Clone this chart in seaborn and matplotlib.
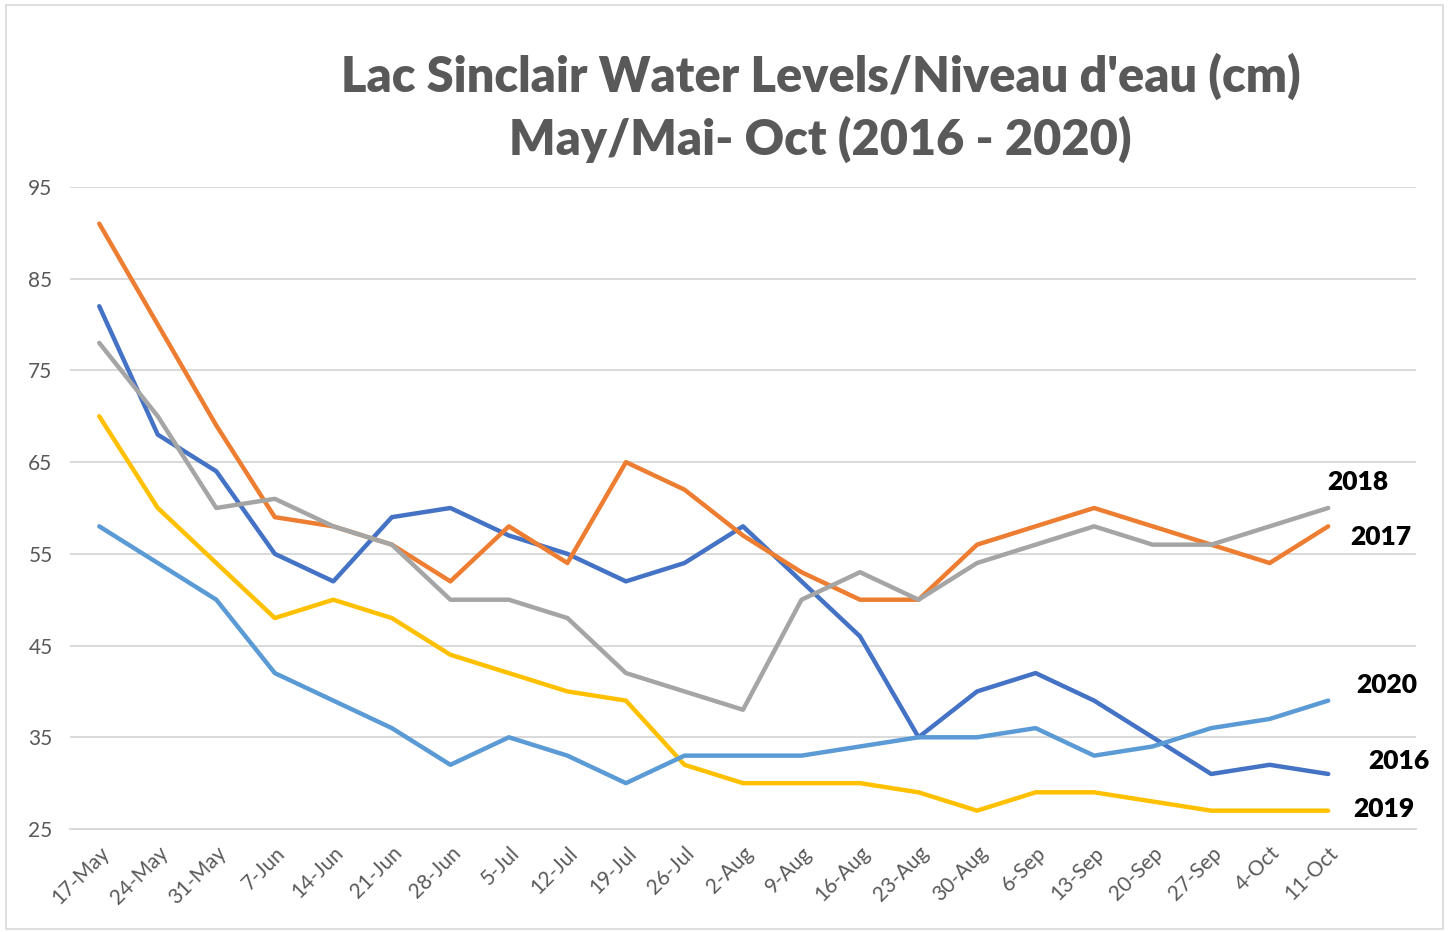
import numpy as np
import pandas as pd
import matplotlib
matplotlib.use("Agg")
import matplotlib.pyplot as plt
import seaborn as sns
from matplotlib.patches import Rectangle

sns.set_theme(style="white")
plt.rcParams['font.family'] = ['Lato', 'DejaVu Sans']

dates = ["17-May", "24-May", "31-May", "7-Jun", "14-Jun", "21-Jun", "28-Jun", "5-Jul",
         "12-Jul", "19-Jul", "26-Jul", "2-Aug", "9-Aug", "16-Aug", "23-Aug", "30-Aug",
         "6-Sep", "13-Sep", "20-Sep", "27-Sep", "4-Oct", "11-Oct"]

lvl_2016 = [82, 68, 64, 55, 52, 59, 60, 57, 55, 52, 54, 58, 52, 46, 35, 40, 42, 39, 35, 31, 32, 31]
lvl_2017 = [91, 80, 69, 59, 58, 56, 52, 58, 54, 65, 62, 57, 53, 50, 50, 56, 58, 60, 58, 56, 54, 58]
lvl_2018 = [78, 70, 60, 61, 58, 56, 50, 50, 48, 42, 40, 38, 50, 53, 50, 54, 56, 58, 56, 56, 58, 60]
lvl_2019 = [70, 60, 54, 48, 50, 48, 44, 42, 40, 39, 32, 30, 30, 30, 29, 27, 29, 29, 28, 27, 27, 27]
lvl_2020 = [58, 54, 50, 42, 39, 36, 32, 35, 33, 30, 33, 33, 33, 34, 35, 35, 36, 33, 34, 36, 37, 39]

years = ["2016", "2017", "2018", "2019", "2020"]
colors = {"2016": "#4472C4", "2017": "#ED7D31", "2018": "#A5A5A5",
          "2019": "#FFC000", "2020": "#5B9BD5"}

series = dict(zip(years, [lvl_2016, lvl_2017, lvl_2018, lvl_2019, lvl_2020]))
df = pd.concat([pd.DataFrame({"pos": range(len(dates)), "level": v, "year": y})
                for y, v in series.items()], ignore_index=True)

fig = plt.figure(figsize=(14.52, 9.32), dpi=100)
ax = fig.add_axes([0.0482, 0.1105, 0.9270, 0.6889])

sns.lineplot(data=df, x="pos", y="level", hue="year", hue_order=years,
             palette=colors, linewidth=3.2, ax=ax, legend=False,
             estimator=None, sort=False)

ax.set_xlim(-0.5, len(dates) + 0.5)
ax.set_ylim(25, 95)
ax.set_yticks(np.arange(25, 96, 10))
ax.yaxis.grid(True, color="#D9D9D9", linewidth=1.4)
ax.set_axisbelow(True)
for s in ["left", "right", "top"]:
    ax.spines[s].set_visible(False)
ax.spines["bottom"].set_color("#D9D9D9")
ax.spines["bottom"].set_linewidth(1.4)

ax.set_xticks(range(len(dates)))
ax.set_xticklabels(dates, rotation=45, ha="right", rotation_mode="anchor")
ax.set_xticks(np.arange(-0.5, len(dates) + 1, 1), minor=True)
ax.tick_params(axis="x", which="major", length=0, pad=10, labelsize=15, labelcolor="#595959")
ax.tick_params(axis="x", which="minor", length=7, width=1.4, color="#D9D9D9", direction="out")
ax.tick_params(axis="y", length=0, pad=30, labelsize=15, labelcolor="#595959")
for t in ax.get_yticklabels():
    t.set_horizontalalignment("left")
ax.set_xlabel("")
ax.set_ylabel("")

# year labels at the right end
lbl = {"2018": (21.5, 62.8), "2017": (21.9, 56.8), "2020": (22.0, 40.7),
       "2016": (22.2, 32.4), "2019": (21.95, 27.2)}
for y, (px, py) in lbl.items():
    ax.text(px, py, y, fontsize=19, fontweight="heavy", color="black",
            ha="center", va="center")

fig.text(0.565, 0.918, "Lac Sinclair Water Levels/Niveau d'eau (cm)",
         ha="center", va="center", fontsize=35, fontweight="heavy", color="#595959")
fig.text(0.565, 0.851, "May/Mai- Oct (2016 - 2020)",
         ha="center", va="center", fontsize=35, fontweight="heavy", color="#595959")

fig.patches.append(Rectangle((0.004, 0.003), 0.99, 0.992, transform=fig.transFigure,
                             fill=False, edgecolor="#D9D9D9", linewidth=1.2))

fig.savefig("out.png", dpi=100)
